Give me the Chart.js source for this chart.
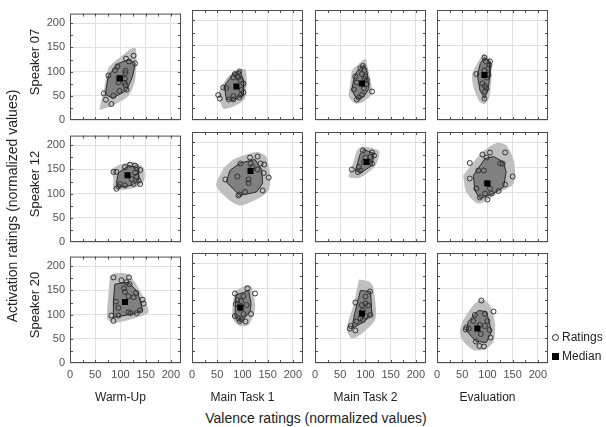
<!DOCTYPE html>
<html>
<head>
<meta charset="utf-8">
<script src="https://cdn.jsdelivr.net/npm/chart.js@4.4.1/dist/chart.umd.min.js"></script>
<style>
  body { margin: 0; background: #fff; width: 606px; height: 427px; position: relative; overflow: hidden;
         font-family: "Liberation Sans", Arial, sans-serif; color: #222; }
  canvas { position: absolute; }
  .lbl { position: absolute; white-space: nowrap; transform: translate(-50%, -50%); }
  .rot { transform: translate(-50%, -50%) rotate(-90deg); }
  .key { position: absolute; left: 552px; font-size: 12px; white-space: nowrap; }
  .key i { display: inline-block; vertical-align: middle; margin-right: 3px; box-sizing: border-box; }
</style>
</head>
<body>
<script>
const speakers = ["Speaker 07", "Speaker 12", "Speaker 20"];
const phases = ["Warm-Up", "Main Task 1", "Main Task 2", "Evaluation"];
const tickValues = [0, 50, 100, 150, 200];

// one entry per phase: [valence, activation]
const ratings07 = [
  [[126,133],[111,127],[117,121],[129,117],[94,111],[89,103],[110,102],[110,97],[76,92],[96,87],[109,85],[108,77],[96,78],[110,72],[112,63],[98,60],[86,50],[67,55],[71,42],[82,33]],
  [[94,97],[85,92],[90,88],[82,85],[96,80],[102,73],[62,65],[68,64],[98,60],[102,55],[97,50],[82,48],[73,41],[82,41],[94,45],[52,50],[55,43],[92,85]],
  [[95,108],[90,103],[98,100],[93,92],[80,87],[98,83],[103,80],[83,75],[103,72],[77,61],[113,57],[97,63],[93,50],[87,45],[83,41],[100,87]],
  [[94,125],[105,117],[104,110],[102,103],[94,99],[78,92],[102,90],[98,85],[90,73],[95,68],[98,63],[95,57],[94,43],[97,117]]
];
const ratings12 = [
  [[119,160],[129,158],[109,155],[132,153],[139,149],[86,145],[92,145],[129,143],[132,135],[122,130],[136,127],[126,120],[139,120],[99,120],[109,117],[96,115],[92,110]],
  [[130,171],[115,169],[96,157],[116,157],[136,157],[143,155],[120,150],[130,145],[142,138],[90,131],[112,125],[112,118],[152,129],[66,125],[140,103],[105,100],[94,95],[92,93]],
  [[95,183],[113,179],[110,170],[100,169],[117,173],[107,160],[113,157],[87,150],[90,143],[73,145],[85,140],[97,160]],
  [[105,179],[135,179],[90,175],[98,169],[65,158],[125,157],[130,157],[82,143],[93,143],[150,131],[65,127],[98,118],[135,115],[78,107],[105,107],[122,102],[95,97],[108,97],[85,89],[100,85]]
];
const ratings20 = [
  [[86,177],[117,177],[102,171],[112,167],[118,163],[107,154],[109,147],[131,145],[116,138],[126,136],[91,127],[144,131],[146,123],[96,114],[139,109],[116,105],[96,98],[82,98],[132,103],[86,87],[120,103]],
  [[110,149],[85,139],[125,139],[102,134],[90,126],[97,124],[87,118],[108,116],[95,109],[117,98],[102,98],[85,94],[92,89],[98,87],[106,83],[95,84]],
  [[109,143],[100,133],[80,121],[100,119],[93,116],[105,115],[95,105],[110,96],[100,94],[90,89],[95,86],[82,83],[71,74],[69,69],[80,65]],
  [[88,125],[112,103],[95,98],[75,96],[100,84],[72,84],[85,76],[95,74],[58,71],[63,69],[104,66],[87,58],[106,51],[77,43],[84,34],[93,33],[57,67]]
];

const median07 = [[99,86],[88,67],[93,73],[94,90]];
const median12 = [[114,138],[116,142],[102,160],[100,117]];
const median20 = [[109,126],[96,111],[93,99],[80,69]];

// inner bag (dark) outlines
const bag07 = [
  [[70,53],[84,45],[112,61],[124,90],[129,117],[117,125],[96,117],[76,92]],
  [[64,68],[82,93],[95,99],[103,77],[102,50],[82,39],[68,41]],
  [[83,97],[97,110],[103,97],[107,63],[97,47],[83,41],[73,60],[77,83]],
  [[94,125],[105,117],[105,87],[100,57],[94,43],[85,60],[80,90],[86,113]]
];
const bag12 = [
  [[96,143],[116,158],[136,153],[136,127],[122,117],[96,113],[92,123]],
  [[75,143],[95,158],[125,165],[138,145],[140,117],[128,100],[95,93],[68,120]],
  [[90,177],[97,185],[117,177],[113,153],[90,138],[80,143]],
  [[72,133],[95,167],[112,171],[132,160],[137,140],[132,110],[112,97],[85,87],[75,103]]
];
const bag20 = [
  [[89,163],[116,167],[134,147],[144,109],[132,103],[86,94],[86,129]],
  [[87,136],[102,141],[112,146],[117,119],[115,103],[98,83],[85,93]],
  [[90,145],[110,143],[113,96],[95,81],[73,69],[78,96]],
  [[62,83],[82,105],[98,103],[108,63],[98,41],[77,43],[58,65]]
];

// outer fence (light) outlines
const fence07 = [
  [[58,21],[81,28],[116,50],[129,83],[131,147],[122,148],[96,127],[76,107],[68,67]],
  [[52,52],[62,23],[82,27],[105,43],[107,100],[95,101],[72,87],[55,60]],
  [[73,100],[100,123],[103,113],[110,80],[113,53],[97,37],[80,33],[67,47],[70,73]],
  [[92,133],[105,121],[108,87],[104,47],[95,32],[84,37],[72,67],[70,93],[82,117]]
];
const fence12 = [
  [[82,150],[99,160],[126,165],[146,153],[147,127],[132,113],[99,107],[86,110],[86,130]],
  [[62,147],[82,165],[128,180],[147,171],[155,130],[150,100],[98,73],[75,83],[48,113]],
  [[83,183],[93,191],[127,182],[120,153],[90,129],[67,130],[73,150]],
  [[52,133],[88,178],[118,198],[138,193],[153,160],[152,117],[125,100],[82,77],[58,100]]
];
const fence20 = [
  [[79,179],[92,186],[116,183],[139,149],[156,106],[139,96],[89,83],[74,91],[76,139]],
  [[85,143],[108,156],[118,153],[125,109],[112,76],[95,74],[82,86],[80,113]],
  [[87,167],[107,163],[115,153],[120,89],[93,59],[73,49],[63,69],[77,119]],
  [[52,86],[72,116],[88,127],[105,116],[115,79],[112,43],[95,27],[72,26],[48,49],[46,69]]
];

const allRatings = [ratings07, ratings12, ratings20];
const allMedians = [median07, median12, median20];
const allBags = [bag07, bag12, bag20];
const allFences = [fence07, fence12, fence20];

const colLeft = [70, 192, 315, 437];
const rowTop = [10, 132, 253];
const plotW = 111, plotH = 110;
const padL = 40, padT = 8, padR = 14, padB = 22;
const FONT = "'Liberation Sans', Arial, sans-serif";

const pts = arr => arr.map(p => ({ x: p[0], y: p[1] }));
const closed = arr => pts(arr.concat([arr[0]]));

// frame + small inward ticks every 25
const frame = {
  id: 'frame',
  beforeDatasetsDraw(chart) {
    const { ctx, chartArea: a, scales: { x, y } } = chart;
    ctx.save();
    ctx.strokeStyle = '#4d4d4d';
    ctx.lineWidth = 1;
    ctx.beginPath();
    for (let v = 25; v < 220; v += 25) {
      const px = Math.round(x.getPixelForValue(v)) + 0.5;
      const py = Math.round(y.getPixelForValue(v)) + 0.5;
      ctx.moveTo(px, a.top); ctx.lineTo(px, a.top + 3);
      ctx.moveTo(px, a.bottom); ctx.lineTo(px, a.bottom - 3);
      ctx.moveTo(a.left, py); ctx.lineTo(a.left + 3, py);
      ctx.moveTo(a.right, py); ctx.lineTo(a.right - 3, py);
    }
    ctx.stroke();
    ctx.strokeRect(a.left + 0.5, a.top + 0.5, a.right - a.left - 1, a.bottom - a.top - 1);
    ctx.restore();
  }
};

function addText(text, x, y, size, rotate) {
  const d = document.createElement('div');
  d.className = 'lbl' + (rotate ? ' rot' : '');
  d.style.left = x + 'px';
  d.style.top = y + 'px';
  d.style.fontSize = size + 'px';
  d.textContent = text;
  document.body.appendChild(d);
}

for (let r = 0; r < 3; r++) {
  for (let c = 0; c < 4; c++) {
    const cv = document.createElement('canvas');
    cv.width = padL + plotW + padR;
    cv.height = padT + plotH + padB;
    cv.style.left = (colLeft[c] - padL) + 'px';
    cv.style.top = (rowTop[r] - padT) + 'px';
    document.body.appendChild(cv);

    const axis = (showLabels) => ({
      type: 'linear', min: 0, max: 220,
      ticks: {
        display: showLabels, stepSize: 50, includeBounds: false, autoSkip: false, maxRotation: 0,
        padding: 5, color: '#505050', font: { family: FONT, size: 11 },
        callback: v => tickValues.includes(v) ? String(v) : ''
      },
      grid: { color: '#e0e0e0', lineWidth: 1, drawTicks: false },
      border: { display: false }
    });
    const xAxis = axis(r === 2);
    xAxis.afterFit = s => { s.height = padB; };
    const yAxis = axis(c === 0);
    yAxis.afterFit = s => { s.width = padL; };

    new Chart(cv, {
      type: 'scatter',
      data: {
        datasets: [
          { label: 'Median', data: pts([allMedians[r][c]]), pointStyle: 'rect', pointRadius: 4.3,
            backgroundColor: '#000', borderColor: '#000', borderWidth: 0, order: 0 },
          { label: 'Ratings', data: pts(allRatings[r][c]), pointStyle: 'circle', pointRadius: 2.5,
            backgroundColor: 'rgba(0,0,0,0)', borderColor: '#333', borderWidth: 1, order: 1 },
          { label: 'bag', data: closed(allBags[r][c]), showLine: true, fill: 'shape', pointRadius: 0,
            backgroundColor: '#808080', borderColor: '#2b2b2b', borderWidth: 1, order: 2 },
          { label: 'fence', data: closed(allFences[r][c]), showLine: true, fill: 'shape', pointRadius: 0,
            tension: 0.25, backgroundColor: '#bfbfbf', borderColor: 'rgba(0,0,0,0)', borderWidth: 0, order: 3 }
        ]
      },
      options: {
        responsive: false,
        animation: false,
        layout: { padding: { left: 0, top: padT, right: padR, bottom: 0 } },
        plugins: { legend: { display: false }, tooltip: { enabled: false } },
        scales: { x: xAxis, y: yAxis }
      },
      plugins: [frame]
    });
  }
}

speakers.forEach((s, r) => addText(s, 34, rowTop[r] + plotH / 2 - 3, 13, true));
phases.forEach((p, c) => addText(p, colLeft[c] + plotW / 2 - 5, 397, 12, false));
addText('Valence ratings (normalized values)', 316, 418, 14, false);
addText('Activation ratings (normalized values)', 12, 206, 14, true);

const k1 = document.createElement('div');
k1.className = 'key'; k1.style.top = '330px';
k1.innerHTML = '<i style="width:7px;height:7px;border:1px solid #222;border-radius:50%"></i>Ratings';
document.body.appendChild(k1);
const k2 = document.createElement('div');
k2.className = 'key'; k2.style.top = '349px';
k2.innerHTML = '<i style="width:7px;height:7px;background:#000"></i>Median';
document.body.appendChild(k2);
</script>
</body>
</html>
